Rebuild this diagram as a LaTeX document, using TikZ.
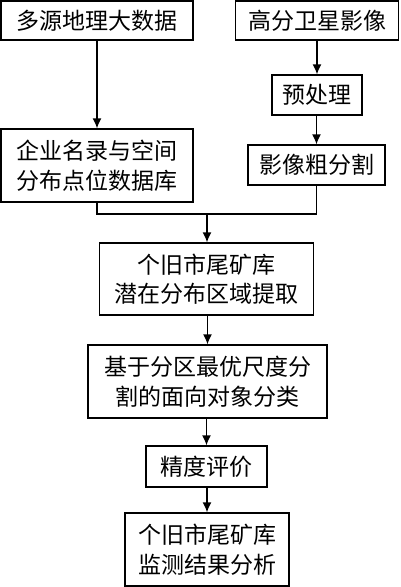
\documentclass[tikz,border=0pt]{standalone}
\usepackage{fontspec}
\setmainfont{Noto Sans CJK SC}
\usetikzlibrary{arrows.meta}

\begin{document}
\begin{tikzpicture}[x=1pt, y=-1pt,
  box/.style={draw, line width=1.3pt, inner sep=0pt, align=center,
    font=\fontsize{23}{29.5}\selectfont},
  arr/.style={-{Latex[length=10pt,width=9pt]}, line width=1.3pt}]
  \useasboundingbox (0,0) rectangle (400,587);

  \node[box, minimum width=192pt, minimum height=39pt] (src) at (97,20.5) {多源地理大数据};
  \node[box, minimum width=163pt, minimum height=39pt] (sat) at (317,20.5) {高分卫星影像};
  \node[box, minimum width=90pt, minimum height=40pt] (pre) at (317,95) {预处理};
  \node[box, minimum width=192pt, minimum height=73pt] (db) at (97,165.5) {企业名录与空间\\分布点位数据库};
  \node[box, minimum width=137pt, minimum height=40pt] (seg) at (316.5,165) {影像粗分割};
  \coordinate (jn) at (207,214);
  \node[box, minimum width=214pt, minimum height=72pt] (ext) at (206.5,279) {个旧市尾矿库\\潜在分布区域提取};
  \node[box, minimum width=239pt, minimum height=73pt] (cls) at (207.5,381.5) {基于分区最优尺度分\\割的面向对象分类};
  \node[box, minimum width=121pt, minimum height=41pt] (acc) at (206.5,466.5) {精度评价};
  \node[box, minimum width=164pt, minimum height=73pt] (res) at (207,549.5) {个旧市尾矿库\\监测结果分析};

  \draw[arr] (src) -- (db);
  \draw[arr] (sat.south -| pre) -- (pre);
  \draw[arr] (pre.south -| seg) -- (seg);
  \draw[line width=1.3pt] (db.south) |- (jn) -| (seg.south);
  \draw[arr] (jn) -- (jn |- ext.north);
  \draw[arr] (ext.south -| cls) -- (cls);
  \draw[arr] (cls.south -| acc) -- (acc);
  \draw[arr] (acc.south -| res) -- (res);
\end{tikzpicture}
\end{document}
